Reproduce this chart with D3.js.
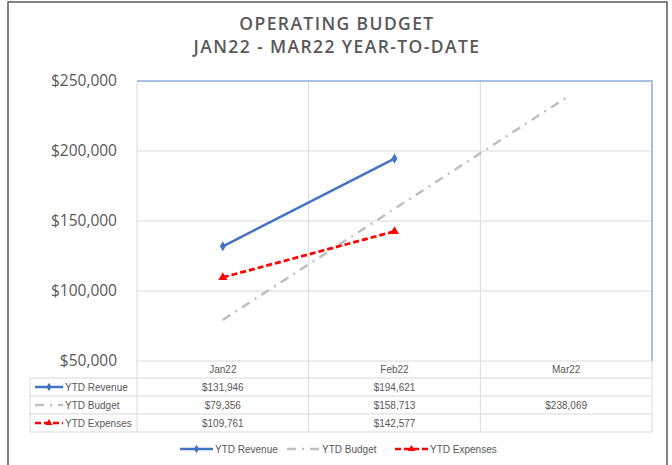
<!DOCTYPE html>
<html>
<head>
<meta charset="utf-8">
<script src="https://cdn.jsdelivr.net/npm/d3@7"></script>
<style>
  body { margin: 0; background: #fff; }
  text { font-family: "Open Sans", "Liberation Sans", sans-serif; fill: #595959; }
  .tbl text, .legend text { font-family: "Liberation Sans Narrow", "Liberation Sans", sans-serif; font-size: 10px; }
</style>
</head>
<body>
<svg id="chart" width="672" height="465"></svg>
<script>
// data
const categories = ["Jan22", "Feb22", "Mar22"];
const revenue = [131946, 194621, null];
const budget = [79356, 158713, 238069];
const expenses = [109761, 142577, null];
const yTicks = [50000, 100000, 150000, 200000, 250000];

const series = [
  { name: "YTD Revenue", values: revenue, color: "#4472c4", dash: null, marker: "diamond" },
  { name: "YTD Budget", values: budget, color: "#bfbfbf", dash: "9,6,2,6", marker: null },
  { name: "YTD Expenses", values: expenses, color: "#ff0000", dash: "6,3", marker: "triangle" }
];

const svg = d3.select("#chart");
const gridColor = "#d9d9d9";

const plot = { left: 137, right: 652, top: 81, bottom: 361 };
const rowH = 18;
const tableTop = 378;
const tableLeft = 30;

const xScale = d3.scaleBand().domain(categories).range([plot.left, plot.right]);
const yScale = d3.scaleLinear().domain([50000, 250000]).range([plot.bottom, plot.top]);

// outer frame
svg.append("rect")
  .attr("x", 8).attr("y", 2)
  .attr("width", 659).attr("height", 475)
  .attr("fill", "none")
  .attr("stroke", "#595959")
  .attr("stroke-width", 1.5);

// title
svg.append("text")
  .attr("x", 337).attr("y", 30)
  .attr("text-anchor", "middle")
  .style("font-size", "17.5px").style("font-weight", 600).style("letter-spacing", "1.4px")
  .text("OPERATING BUDGET");
svg.append("text")
  .attr("x", 337).attr("y", 53)
  .attr("text-anchor", "middle")
  .style("font-size", "17.5px").style("font-weight", 600).style("letter-spacing", "1.4px")
  .text("JAN22 - MAR22 YEAR-TO-DATE");

// horizontal gridlines
svg.append("g")
  .selectAll("line")
  .data(yTicks.slice(1, -1))
  .join("line")
    .attr("x1", plot.left).attr("x2", plot.right)
    .attr("y1", d => yScale(d)).attr("y2", d => yScale(d))
    .attr("stroke", gridColor);

// y labels
svg.append("g")
  .selectAll("text")
  .data(yTicks)
  .join("text")
    .attr("x", 117)
    .attr("y", d => yScale(d))
    .attr("dy", "0.35em")
    .attr("text-anchor", "end")
    .style("font-size", "15.5px")
    .text(d => d3.format("$,")(d));

// table grid
const tableBottom = tableTop + rowH * series.length;
const vLines = [plot.left, ...categories.slice(1).map(c => xScale(c))];
svg.append("g")
  .selectAll("line")
  .data(vLines)
  .join("line")
    .attr("x1", d => d).attr("x2", d => d)
    .attr("y1", plot.top).attr("y2", tableBottom)
    .attr("stroke", gridColor);
svg.append("line")
  .attr("x1", plot.right).attr("x2", plot.right)
  .attr("y1", plot.bottom).attr("y2", tableBottom)
  .attr("stroke", gridColor);
svg.append("line")
  .attr("x1", tableLeft).attr("x2", tableLeft)
  .attr("y1", tableTop).attr("y2", tableBottom)
  .attr("stroke", gridColor);
svg.append("line")
  .attr("x1", plot.left).attr("x2", plot.right)
  .attr("y1", plot.bottom).attr("y2", plot.bottom)
  .attr("stroke", gridColor);
svg.append("g")
  .selectAll("line")
  .data(d3.range(series.length + 1))
  .join("line")
    .attr("x1", tableLeft).attr("x2", plot.right)
    .attr("y1", i => tableTop + i * rowH).attr("y2", i => tableTop + i * rowH)
    .attr("stroke", gridColor);

// blue plot border top + right
svg.append("path")
  .attr("d", `M${plot.left},${plot.top}H${plot.right}V${plot.bottom}`)
  .attr("fill", "none")
  .attr("stroke", "#8faadc")
  .attr("stroke-width", 1.5);

const cx = c => xScale(c) + xScale.bandwidth() / 2;

// series lines
const line = d3.line()
  .defined(d => d.v != null)
  .x(d => cx(d.c))
  .y(d => yScale(d.v));

const markerPath = (type, size) => type === "diamond"
  ? d3.symbol(d3.symbolDiamond, size)()
  : d3.symbol(d3.symbolTriangle, size)();

series.forEach(s => {
  const pts = categories.map((c, i) => ({ c, v: s.values[i] }));
  svg.append("path")
    .datum(pts)
    .attr("d", line)
    .attr("fill", "none")
    .attr("stroke", s.color)
    .attr("stroke-width", s.marker === "triangle" ? 2.75 : 2.5)
    .attr("stroke-dasharray", s.dash);
  if (s.marker) {
    svg.append("g")
      .selectAll("path")
      .data(pts.filter(d => d.v != null))
      .join("path")
      .attr("transform", d => `translate(${cx(d.c)},${yScale(d.v)})`)
      .attr("d", markerPath(s.marker, s.marker === "diamond" ? 30 : 35))
      .attr("fill", s.color);
  }
});

// table: header
const tbl = svg.append("g").attr("class", "tbl");
tbl.selectAll(".hdr")
  .data(categories)
  .join("text")
    .attr("class", "hdr")
    .attr("x", cx)
    .attr("y", plot.bottom + rowH / 2 - 0.5)
    .attr("dy", "0.35em")
    .attr("text-anchor", "middle")
    .text(d => d);

const legendKey = (g, s, x0, len) => {
  g.append("line")
    .attr("x1", x0).attr("x2", x0 + len)
    .attr("stroke", s.color)
    .attr("stroke-width", 2.5)
    .attr("stroke-dasharray", s.dash);
  if (s.marker) {
    g.append("path")
      .attr("transform", `translate(${x0 + len / 2},0)`)
      .attr("d", markerPath(s.marker, 22))
      .attr("fill", s.color);
  }
};

series.forEach((s, i) => {
  const rowY = tableTop + i * rowH + rowH / 2;
  const row = tbl.append("g").attr("transform", `translate(0,${rowY})`);
  legendKey(row, s, 35, 28);
  row.append("text")
    .attr("x", 65).attr("dy", "0.35em")
    .text(s.name);
  row.selectAll(".val")
    .data(categories.map((c, j) => ({ c, v: s.values[j] })).filter(d => d.v != null))
    .join("text")
      .attr("class", "val")
      .attr("x", d => cx(d.c))
      .attr("dy", "0.35em")
      .attr("text-anchor", "middle")
      .text(d => d3.format("$,")(d.v));
});

// bottom legend
const legendX = [180, 287, 395];
const legend = svg.append("g").attr("class", "legend");
series.forEach((s, i) => {
  const g = legend.append("g").attr("transform", `translate(${legendX[i]},449)`);
  legendKey(g, s, 0, 33);
  g.append("text")
    .attr("x", 35).attr("dy", "0.35em")
    .text(s.name);
});
</script>
</body>
</html>
